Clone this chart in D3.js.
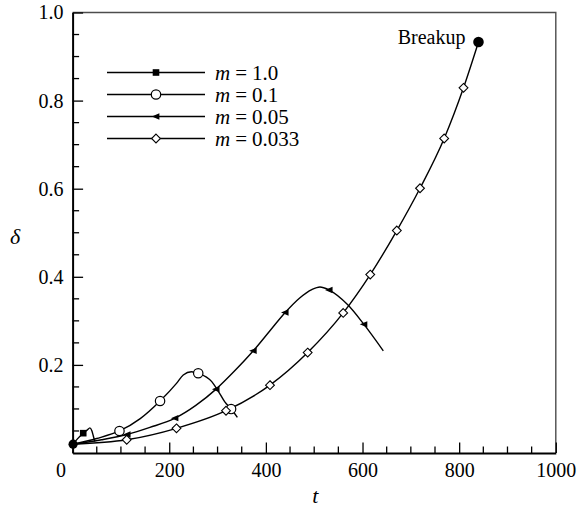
<!DOCTYPE html>
<meta charset="utf-8">
<body style="margin:0">
<script src="https://d3js.org/d3.v7.min.js"></script>
<script>

////*Data*////
// m = 1.0
const tM1 = [1, 10, 22, 30, 36, 40, 43, 46];
const dM1 = [0.02, 0.032, 0.045, 0.052, 0.057, 0.05, 0.038, 0.026];
const markM1 = [2];
// m = 0.1
const tM01 = [1, 50, 97, 140, 181, 215, 229, 246, 260, 288, 300, 315, 328, 341];
const dM01 = [0.02, 0.033, 0.05, 0.078, 0.118, 0.158, 0.177, 0.1845, 0.181, 0.162, 0.143, 0.116, 0.0998, 0.081];
const markM01 = [2, 4, 8, 12];
// m = 0.05
const tM005 = [1, 60, 113, 160, 212, 255, 297, 335, 374, 408, 440, 470, 495, 512, 531, 570, 603, 643];
const dM005 = [0.02, 0.03, 0.042, 0.058, 0.079, 0.108, 0.145, 0.186, 0.232, 0.277, 0.319, 0.352, 0.371, 0.377, 0.370, 0.336, 0.292, 0.232];
const markM005 = [2, 4, 6, 8, 10, 14, 16];
// m = 0.033
const tM0033 = [1, 112, 215, 317.5, 408.5, 486.5, 560, 616, 671, 719, 769, 809, 840];
const dM0033 = [0.02, 0.03, 0.056, 0.096, 0.154, 0.228, 0.318, 0.405, 0.505, 0.601, 0.714, 0.829, 0.933];
const markM0033 = [1, 2, 3, 4, 5, 6, 7, 8, 9, 10, 11];

const legendLabels = ["1.0", "0.1", "0.05", "0.033"];
const xMajorTicks = [0, 200, 400, 600, 800, 1000];
const yMajorTicks = [0.2, 0.4, 0.6, 0.8, 1.0];
const breakupLabel = "Breakup";

////*Set-up*////
const W = 578, H = 509;
const FONT = "Liberation Serif";
const plot = { left: 72.6, right: 555.8, top: 12.5, bottom: 453 };

const xScale = d3.scaleLinear().domain([0, 1000]).range([plot.left, plot.right]);
const yScale = d3.scaleLinear().domain([0, 1]).range([plot.bottom, plot.top]);

const svg = d3.select("body").append("svg")
   .attr("width", W)
   .attr("height", H)
   .attr("font-family", FONT);

svg.append("rect").attr("width", W).attr("height", H).attr("fill", "white");

// diamond and left triangle shapes, tecplot style
function diamondPath(s) {
   return `M0,${-s}L${s},0L0,${s}L${-s},0Z`;
}
function leftTriPath(s) {
   return `M${-s},0L${s * 0.8},${-s * 0.75}L${s * 0.8},${s * 0.75}Z`;
}

const series = [
   { t: tM1, d: dM1, marks: markM1, kind: "square" },
   { t: tM01, d: dM01, marks: markM01, kind: "circle" },
   { t: tM005, d: dM005, marks: markM005, kind: "tri" },
   { t: tM0033, d: dM0033, marks: markM0033, kind: "diamond" }
];

function drawMarker(g, kind, x, y) {
   if (kind === "square") {
      g.append("rect").attr("x", x - 3.3).attr("y", y - 3.3).attr("width", 6.6).attr("height", 6.6)
         .attr("fill", "black");
   } else if (kind === "circle") {
      g.append("circle").attr("cx", x).attr("cy", y).attr("r", 4.7)
         .attr("fill", "white").attr("stroke", "black").attr("stroke-width", 1.2);
   } else if (kind === "tri") {
      g.append("path").attr("d", leftTriPath(4.2)).attr("transform", `translate(${x},${y})`)
         .attr("fill", "black");
   } else {
      g.append("path").attr("d", diamondPath(4.4)).attr("transform", `translate(${x},${y})`)
         .attr("fill", "white").attr("stroke", "black").attr("stroke-width", 1.1);
   }
}

////*Axes*////
const xMinor = d3.range(50, 1000, 50).filter(v => v % 200 !== 0);
const yMinor = d3.range(0.05, 1.0, 0.05).filter(v => Math.abs(v * 5 - Math.round(v * 5)) > 1e-6);

// top and right frame (thin grey)
svg.append("path")
   .attr("d", `M${plot.left},${plot.top}H${plot.right}V${plot.bottom}`)
   .attr("fill", "none")
   .attr("stroke", "#4d4d4d")
   .attr("stroke-width", 1.4);

const xAxis = svg.append("g")
   .attr("transform", `translate(0,${plot.bottom})`)
   .call(d3.axisBottom(xScale).tickValues(xMajorTicks).tickSizeInner(-10.5).tickSizeOuter(0)
      .tickPadding(10).tickFormat(d3.format("d")));
xAxis.append("g").selectAll("line").data(xMinor).join("line")
   .attr("x1", d => xScale(d)).attr("x2", d => xScale(d))
   .attr("y1", 0).attr("y2", -6.5).attr("stroke", "black").attr("stroke-width", 1.3);

const yAxis = svg.append("g")
   .attr("transform", `translate(${plot.left},0)`)
   .call(d3.axisLeft(yScale).tickValues(yMajorTicks).tickSizeInner(-10.5).tickSizeOuter(0)
      .tickPadding(9).tickFormat(d3.format(".1f")));
yAxis.append("g").selectAll("line").data(yMinor).join("line")
   .attr("y1", d => yScale(d)).attr("y2", d => yScale(d))
   .attr("x1", 0).attr("x2", 6.5).attr("stroke", "black").attr("stroke-width", 1.3);

[xAxis, yAxis].forEach(a => {
   a.attr("font-family", FONT).attr("font-size", 20);
   a.select(".domain").attr("stroke", "black").attr("stroke-width", 2);
   a.selectAll(".tick line").attr("stroke", "black").attr("stroke-width", 1.3);
   a.selectAll(".tick text")
      .attr("font-family", FONT)
      .attr("font-size", 20)
      .attr("fill", "black");
});
// the zero label sits left of the corner
xAxis.selectAll(".tick text").filter(d => d === 0).attr("dx", -12);

svg.append("text")
   .attr("x", (plot.left + plot.right) / 2 + 1)
   .attr("y", 503)
   .attr("text-anchor", "middle")
   .attr("font-family", FONT)
   .attr("font-size", 22)
   .attr("font-style", "italic")
   .text("t");

svg.append("text")
   .attr("x", 15)
   .attr("y", 244)
   .attr("text-anchor", "middle")
   .attr("font-family", FONT)
   .attr("font-size", 22)
   .attr("font-style", "italic")
   .text("δ");

////*Curves*////
const line = d3.line()
   .x(p => xScale(p[0]))
   .y(p => yScale(p[1]))
   .curve(d3.curveMonotoneX);

const curves = svg.append("g");
series.forEach(s => {
   const pts = s.t.map((t, i) => [t, s.d[i]]);
   curves.append("path")
      .datum(pts)
      .attr("d", line)
      .attr("fill", "none")
      .attr("stroke", "black")
      .attr("stroke-width", 1.4);
});
series.forEach(s => {
   s.marks.forEach(i => drawMarker(curves, s.kind, xScale(s.t[i]), yScale(s.d[i])));
});

// start point and breakup point
curves.append("circle")
   .attr("cx", xScale(tM0033[0])).attr("cy", yScale(dM0033[0])).attr("r", 4.6).attr("fill", "black");
const last = tM0033.length - 1;
curves.append("circle")
   .attr("cx", xScale(tM0033[last])).attr("cy", yScale(dM0033[last])).attr("r", 5.3).attr("fill", "black");
svg.append("text")
   .attr("x", xScale(tM0033[last]) - 13)
   .attr("y", 44)
   .attr("text-anchor", "end")
   .attr("font-family", FONT)
   .attr("font-size", 20)
   .text(breakupLabel);

////*Legend*////
const legend = svg.append("g");
legendLabels.forEach((lab, i) => {
   const y = 72.5 + i * 22;
   legend.append("line")
      .attr("x1", 107).attr("x2", 205).attr("y1", y).attr("y2", y)
      .attr("stroke", "black").attr("stroke-width", 1.4);
   drawMarker(legend, series[i].kind, 156, y);
   const txt = legend.append("text")
      .attr("x", 215).attr("y", y + 7)
      .attr("font-family", FONT)
      .attr("font-size", 21);
   txt.append("tspan").attr("font-style", "italic").text("m");
   txt.append("tspan").attr("dx", 5).text("=");
   txt.append("tspan").attr("dx", 5).text(lab);
});

</script>
</body>
</html>
